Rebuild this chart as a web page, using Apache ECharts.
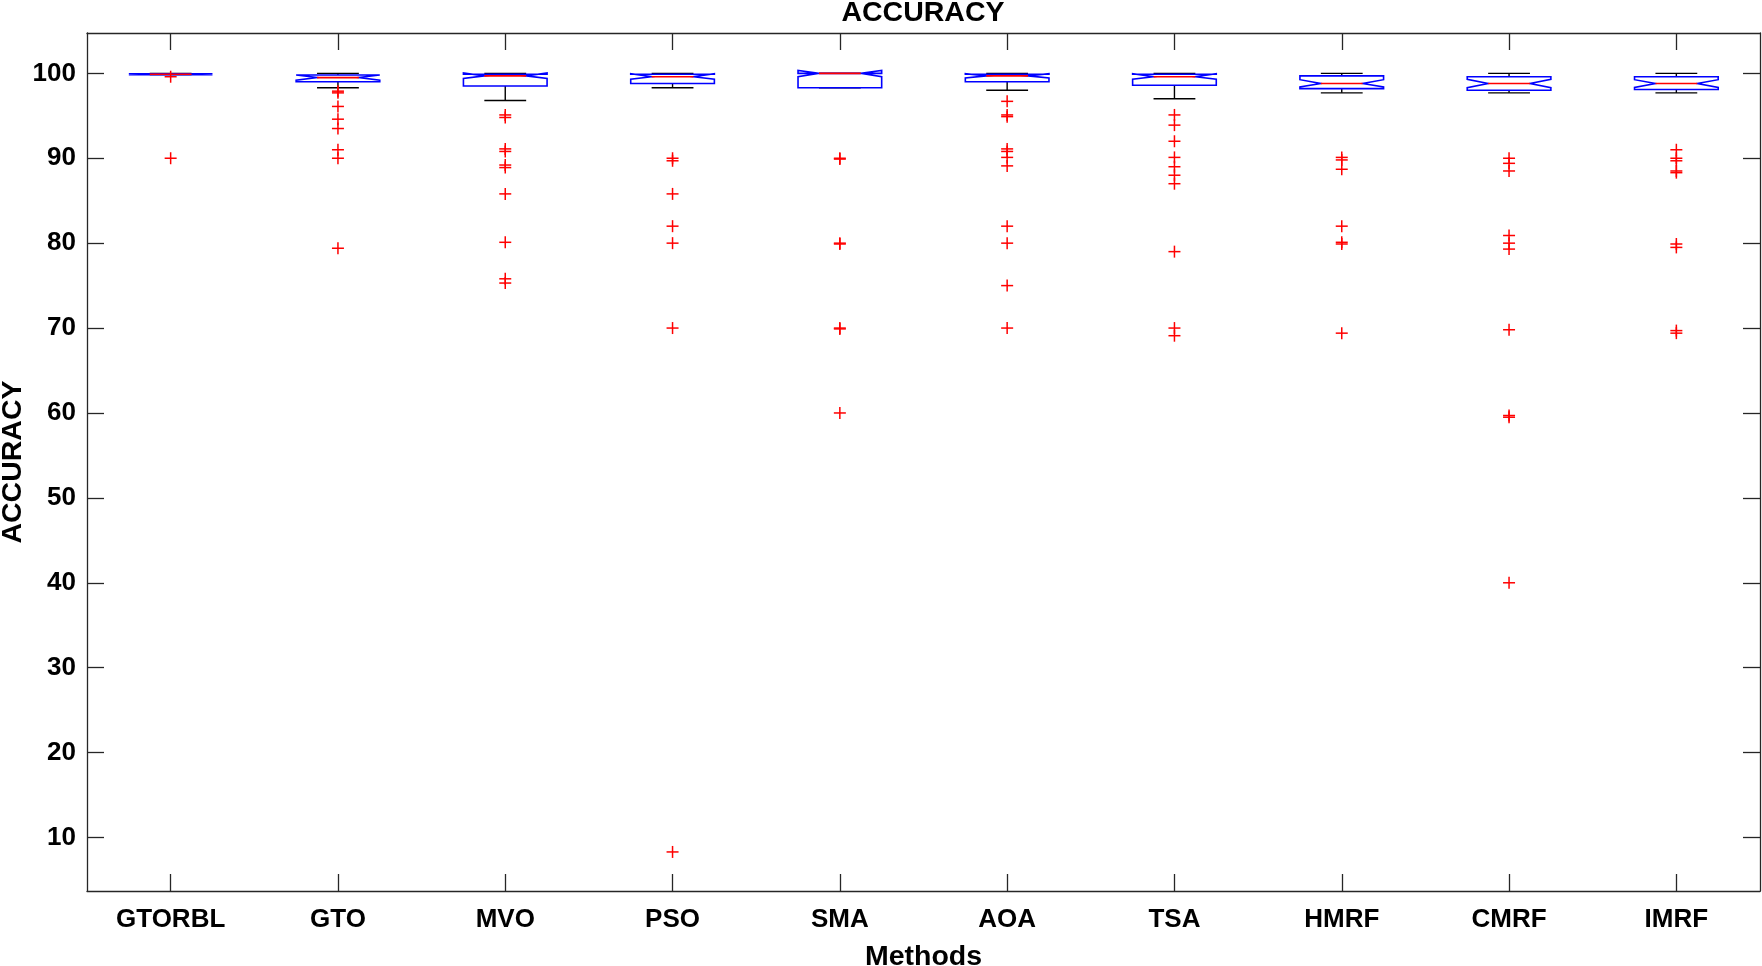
<!DOCTYPE html>
<html>
<head>
<meta charset="utf-8">
<script src="https://cdn.jsdelivr.net/npm/echarts@6/dist/echarts.min.js"></script>
<style>
html,body{margin:0;padding:0;background:#ffffff;}
#chart{width:1762px;height:966px;}
</style>
</head>
<body>
<div id="chart"></div>
<script>
// ---- data ----
const categories = ['GTORBL','GTO','MVO','PSO','SMA','AOA','TSA','HMRF','CMRF','IMRF'];
const q1          = [99.85, 99.0, 98.5, 98.8, 98.3, 99.0, 98.6, 98.2, 98.0, 98.1];
const median      = [99.9,  99.5, 99.7, 99.6, 100.0, 99.7, 99.6, 98.8, 98.8, 98.8];
const q3          = [99.95, 99.8, 99.9, 99.9, 100.0, 99.9, 99.9, 99.7, 99.6, 99.6];
const whiskerLow  = [99.85, 98.3, 96.8, 98.3, 98.3, 98.0, 97.0, 97.7, 97.7, 97.7];
const whiskerHigh = [100.0, 100.0, 100.0, 100.0, 100.0, 100.0, 100.0, 100.0, 100.0, 100.0];
const notchLow    = [99.85, 99.2, 99.4, 99.3, 99.6, 99.45, 99.3, 98.4, 98.3, 98.35];
const notchHigh   = [99.95, 99.8, 100.05, 99.95, 100.35, 99.95, 99.95, 99.25, 99.3, 99.25];

const outGTORBL = [99.6, 90.0];
const outGTO    = [97.9, 97.7, 96.1, 94.6, 93.5, 91.0, 90.0, 79.4];
const outMVO    = [95.1, 94.8, 91.1, 90.8, 89.2, 88.9, 85.8, 80.1, 75.8, 75.3];
const outPSO    = [90.0, 89.7, 85.8, 82.0, 80.0, 70.0, 8.3];
const outSMA    = [90.0, 89.9, 80.0, 79.9, 70.0, 69.9, 60.0];
const outAOA    = [96.7, 95.1, 94.9, 91.1, 90.8, 90.1, 89.1, 82.0, 80.0, 75.0, 70.0];
const outTSA    = [95.1, 93.9, 92.0, 90.1, 89.0, 88.0, 87.0, 79.0, 70.0, 69.1];
const outHMRF   = [90.1, 89.8, 88.7, 82.0, 80.1, 79.9, 69.4];
const outCMRF   = [90.0, 89.4, 88.5, 80.9, 80.0, 79.3, 69.8, 59.7, 59.5, 40.0];
const outIMRF   = [91.0, 90.0, 89.7, 88.5, 88.3, 79.9, 79.5, 69.7, 69.4];

const yTicks = [10, 20, 30, 40, 50, 60, 70, 80, 90, 100];
const yMin = 3.7, yMax = 104.75;

// ---- build series data ----
const outlierLists = [outGTORBL, outGTO, outMVO, outPSO, outSMA, outAOA, outTSA, outHMRF, outCMRF, outIMRF];
const boxData = categories.map((c, i) => [i, q1[i], median[i], q3[i], whiskerLow[i], whiskerHigh[i], notchLow[i], notchHigh[i]]);
const outData = [];
outlierLists.forEach((arr, i) => arr.forEach(v => outData.push([i, v])));

const FONT = "'Liberation Sans', Arial, Helvetica, sans-serif";
const AXC = '#262626';

function renderBox(params, api) {
  const i = api.value(0);
  const band = api.size([1, 0])[0];
  const w = band * 0.25, wn = w * 0.5;
  const cx = api.coord([i, 50])[0];
  const y = v => api.coord([i, v])[1];
  const yq1 = y(api.value(1)), ym = y(api.value(2)), yq3 = y(api.value(3));
  const ywl = y(api.value(4)), ywh = y(api.value(5));
  const ynl = y(api.value(6)), ynh = y(api.value(7));
  const blk = {stroke: '#000000', lineWidth: 1.4};
  return {
    type: 'group',
    children: [
      {type: 'line', shape: {x1: cx, y1: yq3, x2: cx, y2: ywh}, style: blk},
      {type: 'line', shape: {x1: cx - wn, y1: ywh, x2: cx + wn, y2: ywh}, style: blk},
      {type: 'line', shape: {x1: cx, y1: yq1, x2: cx, y2: ywl}, style: blk},
      {type: 'line', shape: {x1: cx - wn, y1: ywl, x2: cx + wn, y2: ywl}, style: blk},
      {type: 'polygon', shape: {points: [
        [cx - w, yq1], [cx - w, ynl], [cx - wn, ym], [cx - w, ynh], [cx - w, yq3],
        [cx + w, yq3], [cx + w, ynh], [cx + wn, ym], [cx + w, ynl], [cx + w, yq1]
      ]}, style: {fill: 'none', stroke: '#0000ff', lineWidth: 1.6}},
      {type: 'line', shape: {x1: cx - wn, y1: ym, x2: cx + wn, y2: ym}, style: {stroke: '#ff0000', lineWidth: 1.6}}
    ]
  };
}

function renderPlus(params, api) {
  const p = api.coord([api.value(0), api.value(1)]);
  const s = 6;
  const st = {stroke: '#ff0000', lineWidth: 1.5};
  return {
    type: 'group',
    children: [
      {type: 'line', shape: {x1: p[0] - s, y1: p[1], x2: p[0] + s, y2: p[1]}, style: st},
      {type: 'line', shape: {x1: p[0], y1: p[1] - s, x2: p[0], y2: p[1] + s}, style: st}
    ]
  };
}

const chart = echarts.init(document.getElementById('chart'), null, {renderer: 'canvas'});
const tickStyle = {color: AXC, width: 1.3};
chart.setOption({
  animation: false,
  backgroundColor: '#ffffff',
  title: {
    text: 'ACCURACY', left: 923, top: -1, textAlign: 'center', padding: 0,
    textStyle: {fontFamily: FONT, fontWeight: 'bold', fontSize: 28.5, color: '#000'}
  },
  graphic: [{
    type: 'text', x: 13, y: 462, rotation: Math.PI / 2,
    style: {
      text: 'ACCURACY', fontFamily: FONT, fontWeight: 'bold', fontSize: 28.5, fill: '#000',
      align: 'center', verticalAlign: 'middle', textAlign: 'center', textVerticalAlign: 'middle'
    }
  }],
  grid: {left: 87, right: 2, top: 33, bottom: 75, containLabel: false, outerBoundsMode: 'none'},
  xAxis: [{
    type: 'category', data: categories, position: 'bottom', boundaryGap: true,
    axisLine: {show: true, lineStyle: tickStyle},
    axisTick: {show: true, inside: true, length: 17, alignWithLabel: true, interval: 0, lineStyle: tickStyle},
    axisLabel: {interval: 0, margin: 16, fontFamily: FONT, fontWeight: 'bold', fontSize: 26, color: '#000'},
    splitLine: {show: false},
    name: 'Methods', nameLocation: 'middle', nameGap: 52,
    nameTextStyle: {fontFamily: FONT, fontWeight: 'bold', fontSize: 28.5, color: '#000'}
  }, {
    type: 'category', data: categories, position: 'top', boundaryGap: true,
    axisLine: {show: true, lineStyle: tickStyle},
    axisTick: {show: true, inside: true, length: 17, alignWithLabel: true, interval: 0, lineStyle: tickStyle},
    axisLabel: {show: false}, splitLine: {show: false}
  }],
  yAxis: [{
    type: 'value', min: yMin, max: yMax, position: 'left',
    axisLine: {show: true, lineStyle: tickStyle},
    axisTick: {show: true, inside: true, length: 17, customValues: yTicks, lineStyle: tickStyle},
    axisLabel: {customValues: yTicks, margin: 11, fontFamily: FONT, fontWeight: 'bold', fontSize: 26, color: '#000'},
    splitLine: {show: false}
  }, {
    type: 'value', min: yMin, max: yMax, position: 'right',
    axisLine: {show: true, lineStyle: tickStyle},
    axisTick: {show: true, inside: true, length: 17, customValues: yTicks, lineStyle: tickStyle},
    axisLabel: {show: false}, splitLine: {show: false}
  }],
  series: [{
    type: 'custom', name: 'box', xAxisIndex: 0, yAxisIndex: 0,
    renderItem: renderBox, data: boxData,
    encode: {x: 0, y: [1, 2, 3, 4, 5]}, clip: false, z: 2
  }, {
    type: 'custom', name: 'outliers', xAxisIndex: 0, yAxisIndex: 0,
    renderItem: renderPlus, data: outData,
    encode: {x: 0, y: 1}, clip: false, z: 3
  }]
});
</script>
</body>
</html>
